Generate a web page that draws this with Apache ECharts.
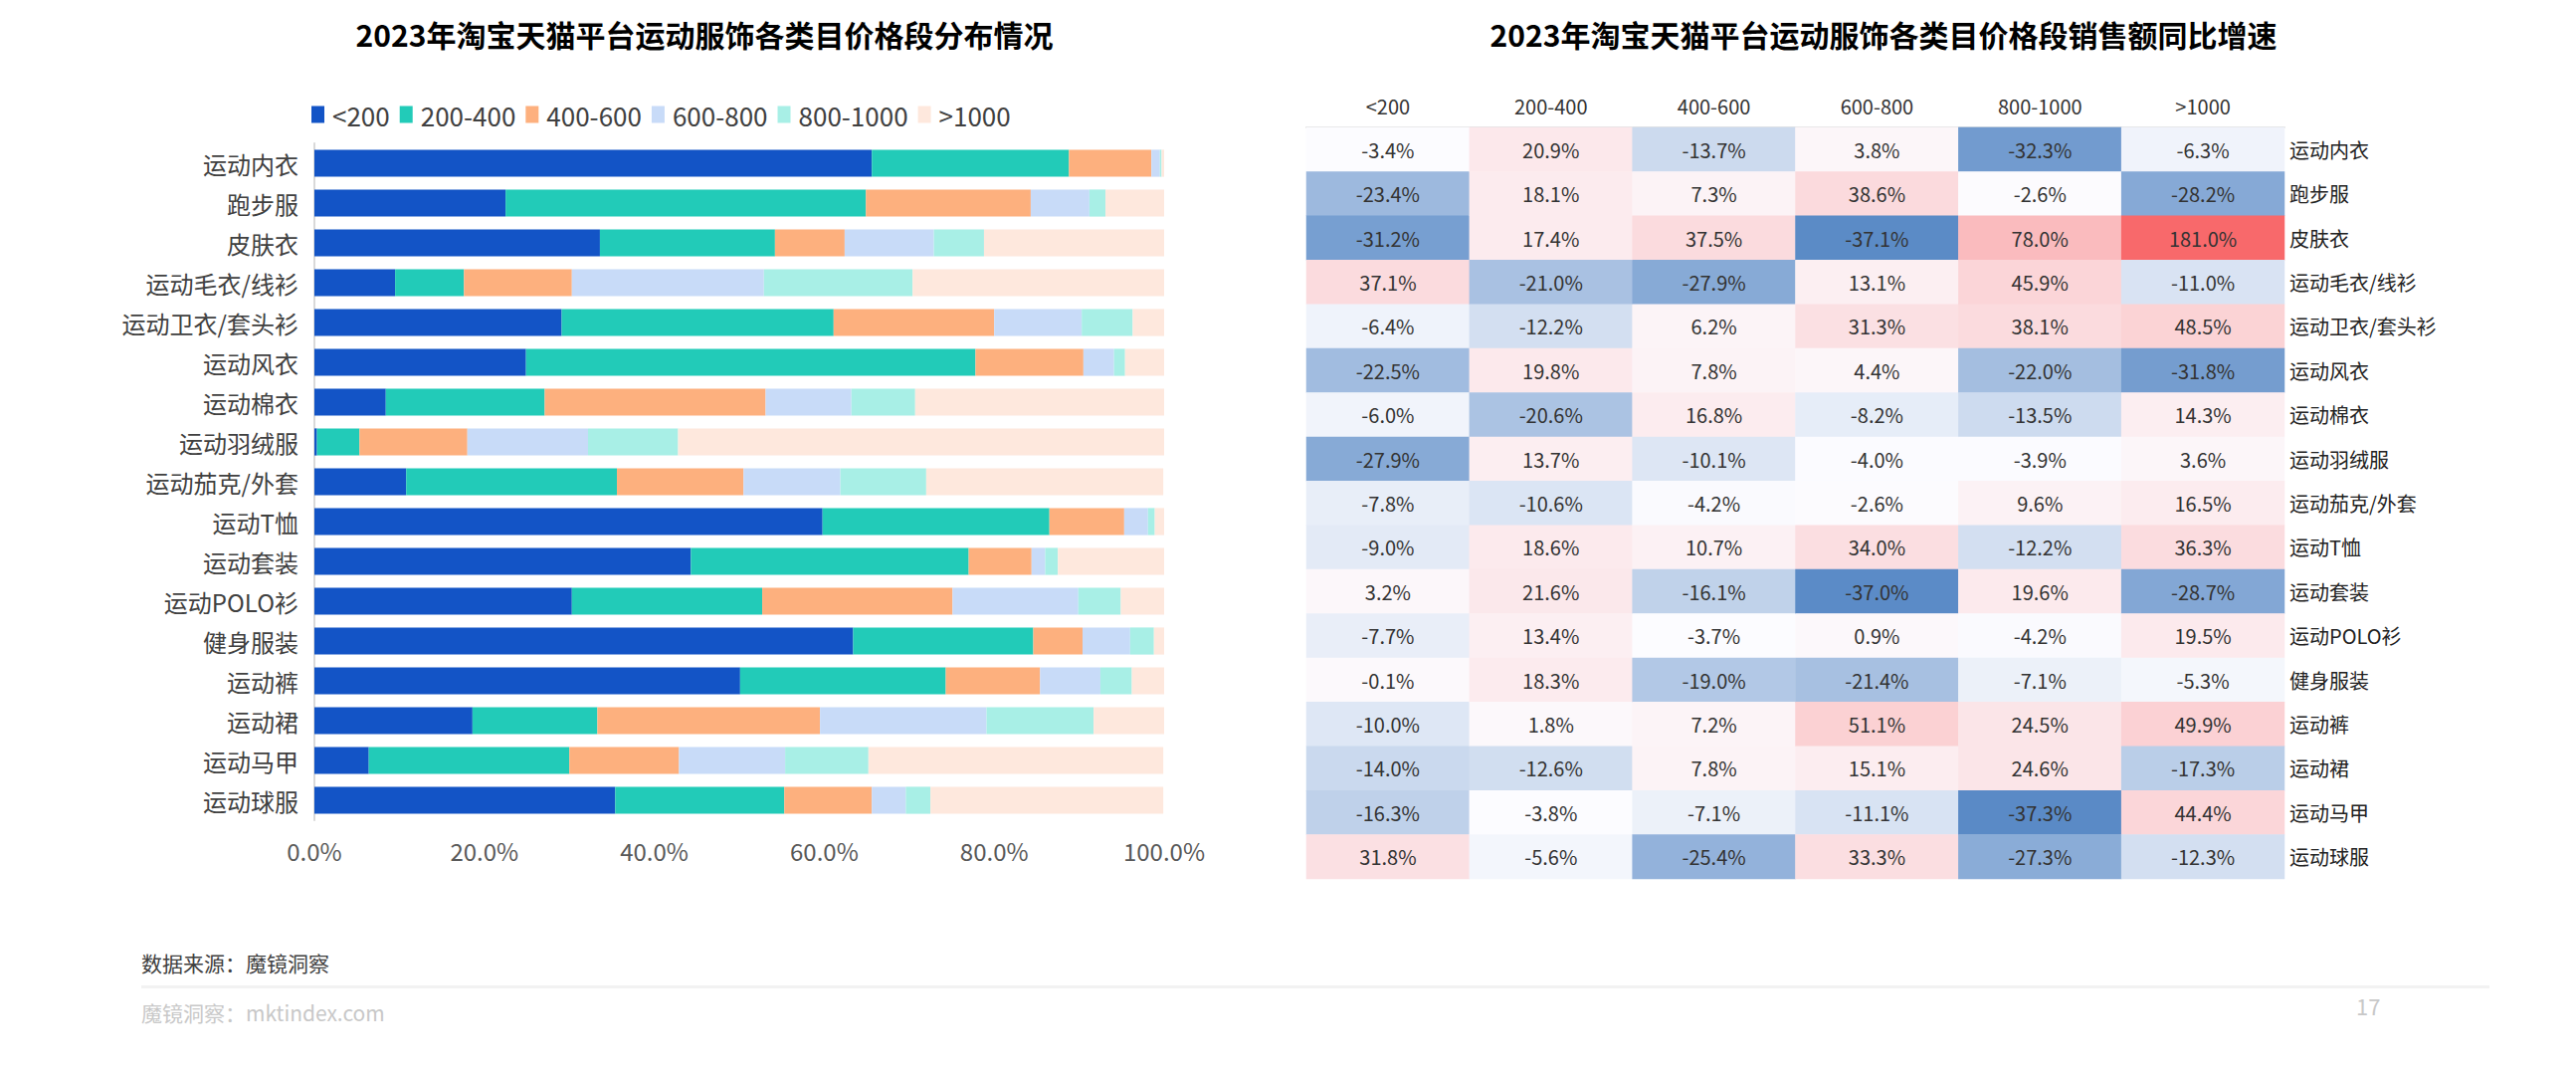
<!DOCTYPE html>
<html>
<head>
<meta charset="utf-8">
<title>2023年淘宝天猫平台运动服饰各类目价格段</title>
<script src="https://cdn.jsdelivr.net/npm/echarts@6/dist/echarts.min.js"></script>
<style>
  html, body { margin: 0; padding: 0; background: #fff; }
  #main { width: 2589px; height: 1080px; }
</style>
</head>
<body>
<div id="main"></div>
<script>
// 类目
const categories = ['运动内衣', '跑步服', '皮肤衣', '运动毛衣/线衫', '运动卫衣/套头衫', '运动风衣', '运动棉衣', '运动羽绒服',
  '运动茄克/外套', '运动T恤', '运动套装', '运动POLO衫', '健身服装', '运动裤', '运动裙', '运动马甲', '运动球服']
// 价格段
const bands = ['<200', '200-400', '400-600', '600-800', '800-1000', '>1000']

// 价格段分布（%）
const shareLt200 = [65.6, 22.5, 33.6, 9.5, 29.1, 24.9, 8.4, 0.3, 10.8, 59.8, 44.3, 30.3, 63.4, 50.1, 18.6, 6.4, 35.4]
const share200 = [23.2, 42.4, 20.6, 8.1, 32.0, 52.9, 18.7, 5.0, 24.8, 26.7, 32.7, 22.4, 21.2, 24.2, 14.7, 23.6, 19.9]
const share400 = [9.7, 19.4, 8.2, 12.7, 18.9, 12.7, 26.0, 12.7, 14.9, 8.8, 7.4, 22.4, 5.8, 11.1, 26.2, 12.9, 10.3]
const share600 = [1.0, 6.9, 10.5, 22.6, 10.3, 3.6, 10.1, 14.2, 11.4, 2.8, 1.6, 14.8, 5.6, 7.1, 19.6, 12.5, 4.0]
const share800 = [0.2, 1.9, 5.9, 17.5, 6.0, 1.3, 7.5, 10.6, 10.1, 0.8, 1.5, 5.0, 2.8, 3.7, 12.6, 9.8, 2.9]
const shareGt1000 = [0.3, 7.0, 21.2, 29.6, 3.7, 4.6, 29.3, 57.2, 27.9, 1.2, 12.5, 5.2, 1.4, 3.9, 8.3, 34.7, 27.4]

// 销售额同比增速（%）
const growthLt200 = [-3.4, -23.4, -31.2, 37.1, -6.4, -22.5, -6.0, -27.9, -7.8, -9.0, 3.2, -7.7, -0.1, -10.0, -14.0, -16.3, 31.8]
const growth200 = [20.9, 18.1, 17.4, -21.0, -12.2, 19.8, -20.6, 13.7, -10.6, 18.6, 21.6, 13.4, 18.3, 1.8, -12.6, -3.8, -5.6]
const growth400 = [-13.7, 7.3, 37.5, -27.9, 6.2, 7.8, 16.8, -10.1, -4.2, 10.7, -16.1, -3.7, -19.0, 7.2, 7.8, -7.1, -25.4]
const growth600 = [3.8, 38.6, -37.1, 13.1, 31.3, 4.4, -8.2, -4.0, -2.6, 34.0, -37.0, 0.9, -21.4, 51.1, 15.1, -11.1, 33.3]
const growth800 = [-32.3, -2.6, 78.0, 45.9, 38.1, -22.0, -13.5, -3.9, 9.6, -12.2, 19.6, -4.2, -7.1, 24.5, 24.6, -37.3, -27.3]
const growthGt1000 = [-6.3, -28.2, 181.0, -11.0, 48.5, -31.8, 14.3, 3.6, 16.5, 36.3, -28.7, 19.5, -5.3, 49.9, -17.3, 44.4, -12.3]

const shareCols = [shareLt200, share200, share400, share600, share800, shareGt1000]
const growthCols = [growthLt200, growth200, growth400, growth600, growth800, growthGt1000]
const barColors = ['#1354c6', '#22cbb8', '#fdb07e', '#c8dbf8', '#a8efe6', '#fee8dd']

const font = '"Noto Sans CJK SC", "Noto Sans", sans-serif'

// 热力图数据 [列, 行, 值]
const heatData = []
growthCols.forEach((col, x) => {
  col.forEach((v, y) => heatData.push([x, y, v]))
})

// 蓝-白-红色阶：14 个等距色标，白色落在第 3 个（约 -3.7%）
const mix = (a, b, t) => 'rgb(' + a.map((c, i) => Math.round(c + (b[i] - c) * t)).join(',') + ')'
const cBlue = [90, 138, 198], cWhite = [252, 252, 255], cRed = [248, 105, 107]
const heatColors = [mix(cBlue, cWhite, 0), mix(cBlue, cWhite, 0.5)]
for (let k = 0; k <= 11; k++) heatColors.push(mix(cWhite, cRed, k / 11))

const barSeries = bands.map((name, i) => ({
  name: name,
  type: 'bar',
  stack: 'total',
  xAxisIndex: 0,
  yAxisIndex: 0,
  barCategoryGap: '32%',
  itemStyle: { color: barColors[i] },
  data: shareCols[i]
}))

let chart = echarts.init(document.getElementById('main'), null, { renderer: 'svg' })

let option = {
  animation: false,
  textStyle: { fontFamily: font },
  title: [
    {
      text: '2023年淘宝天猫平台运动服饰各类目价格段分布情况',
      left: 703, top: 14, textAlign: 'center',
      textStyle: { fontSize: 30, fontWeight: 'bold', color: '#000', fontFamily: font }
    },
    {
      text: '2023年淘宝天猫平台运动服饰各类目价格段销售额同比增速',
      left: 1888, top: 14, textAlign: 'center',
      textStyle: { fontSize: 30, fontWeight: 'bold', color: '#000', fontFamily: font }
    }
  ],
  legend: {
    data: bands,
    left: 308, top: 97,
    itemWidth: 13, itemHeight: 17, itemGap: 10,
    icon: 'rect',
    textStyle: { fontSize: 26, color: '#404040', fontFamily: font, padding: [0, 0, 0, 3] }
  },
  grid: [
    { left: 316, right: 1419, top: 144, bottom: 256 },
    { left: 1313, right: 293, top: 128, bottom: 197 }
  ],
  xAxis: [
    {
      type: 'value', gridIndex: 0, min: 0, max: 100, interval: 20,
      axisLine: { show: false }, axisTick: { show: false }, splitLine: { show: false },
      axisLabel: { fontSize: 24, color: '#595959', margin: 18, formatter: v => v.toFixed(1) + '%' }
    },
    {
      type: 'category', gridIndex: 1, data: bands, position: 'top',
      axisLine: { show: true, lineStyle: { color: '#e3e3e3', width: 2 } },
      axisTick: { show: false }, splitLine: { show: false },
      axisLabel: { fontSize: 20, color: '#333', margin: 12 }
    }
  ],
  yAxis: [
    {
      type: 'category', gridIndex: 0, data: categories, inverse: true,
      axisLine: { show: true, lineStyle: { color: '#d9d9d9', width: 2 } },
      axisTick: { show: false },
      axisLabel: { fontSize: 24, color: '#404040', margin: 16 }
    },
    {
      type: 'category', gridIndex: 1, data: categories, inverse: true, position: 'right',
      axisLine: { show: false }, axisTick: { show: false },
      axisLabel: { fontSize: 20, color: '#222', margin: 5 }
    }
  ],
  visualMap: {
    show: false,
    seriesIndex: 6,
    dimension: 2,
    min: -37.3,
    max: 181,
    inRange: { color: heatColors }
  },
  series: barSeries.concat([
    {
      name: '同比增速',
      type: 'heatmap',
      xAxisIndex: 1,
      yAxisIndex: 1,
      data: heatData,
      label: {
        show: true, fontSize: 20, color: '#333', fontFamily: font,
        formatter: p => p.value[2].toFixed(1) + '%'
      },
      itemStyle: { borderWidth: 0 }
    }
  ]),
  graphic: [
    {
      type: 'text', left: 142, top: 956,
      style: { text: '数据来源：魔镜洞察', fontSize: 21, fill: '#404040', fontFamily: font }
    },
    {
      type: 'rect', left: 142, top: 990,
      shape: { width: 2360, height: 3 },
      style: { fill: '#f2f2f2' }
    },
    {
      type: 'text', left: 142, top: 1006,
      style: { text: '魔镜洞察：mktindex.com', fontSize: 21, fill: '#c8c8c8', fontFamily: font }
    },
    {
      type: 'text', left: 2368, top: 999,
      style: { text: '17', fontSize: 22, fill: '#c8c8c8', fontFamily: font }
    }
  ]
}

chart.setOption(option)
</script>
</body>
</html>
